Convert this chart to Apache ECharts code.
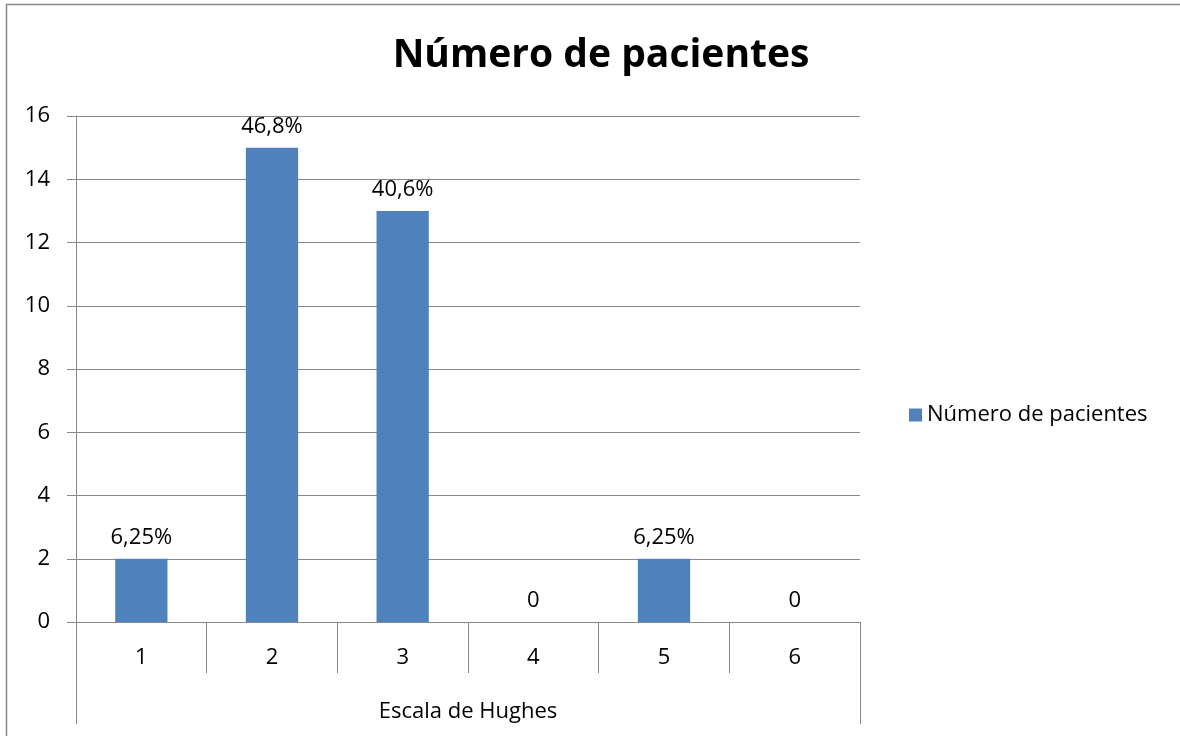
<!DOCTYPE html>
<html><head><meta charset="utf-8">
<script src="https://cdn.jsdelivr.net/npm/echarts@6/dist/echarts.min.js"></script>
<style>html,body{margin:0;padding:0;background:#fff}#c{width:1180px;height:736px}</style>
</head><body><div id="c"></div>
<script>
const categories = ['1','2','3','4','5','6'];
const values = [2, 15, 13, 0, 2, 0];
const pctLabels = ['6,25%','46,8%','40,6%','0','6,25%','0'];
const groupLabel = ['Escala de Hughes'];
const seriesName = 'Número de pacientes';
const titleText = 'Número de pacientes';

const FONT = "'Open Sans', 'Liberation Sans', sans-serif";
const chart = echarts.init(document.getElementById('c'));
chart.setOption({
  animation: false,
  textStyle: {fontFamily: FONT},
  title: {text: titleText, left: 596, top: 31, textAlign: 'center',
    textStyle: {fontFamily: FONT, fontSize: 39, fontWeight: 'bold', color: '#000'}},
  graphic: [{type: 'rect', shape: {x: 6.5, y: 4.5, width: 1300, height: 900},
    style: {fill: 'none', stroke: '#888', lineWidth: 1.5}, silent: true, z: -1}],
  legend: {left: 904, top: 399, itemWidth: 13, itemHeight: 13, itemGap: 8,
    icon: 'rect', textStyle: {fontFamily: FONT, fontSize: 22, color: '#000'},
    data: [seriesName]},
  grid: {left: 76, right: 320, top: 116, bottom: 114, containLabel: false},
  xAxis: [{
    type: 'category', data: categories, position: 'bottom',
    axisLine: {lineStyle: {color: '#888', width: 1}},
    axisTick: {show: true, interval: 0, length: 51, lineStyle: {color: '#888'}},
    axisLabel: {fontSize: 22, color: '#000', margin: 25, fontFamily: FONT}
  }, {
    type: 'category', data: groupLabel, position: 'bottom', offset: 51,
    axisLine: {show: false},
    axisTick: {show: true, interval: 0, length: 51, lineStyle: {color: '#888'}},
    axisLabel: {fontSize: 22, color: '#000', margin: 28, fontFamily: FONT}
  }],
  yAxis: {
    type: 'value', min: 0, max: 16, interval: 2,
    axisLine: {show: true, lineStyle: {color: '#888'}},
    axisTick: {show: true, length: 9, lineStyle: {color: '#888'}},
    splitLine: {lineStyle: {color: '#888', width: 1}},
    axisLabel: {fontSize: 22, color: '#000', margin: 26, fontFamily: FONT}
  },
  series: [{
    name: seriesName, type: 'bar', data: values, xAxisIndex: 0,
    barWidth: '40%', itemStyle: {color: '#4F81BD'},
    label: {show: true, position: 'top', distance: 10, fontSize: 22, color: '#000',
      fontFamily: FONT, formatter: p => pctLabels[p.dataIndex]}
  }]
});
</script></body></html>
